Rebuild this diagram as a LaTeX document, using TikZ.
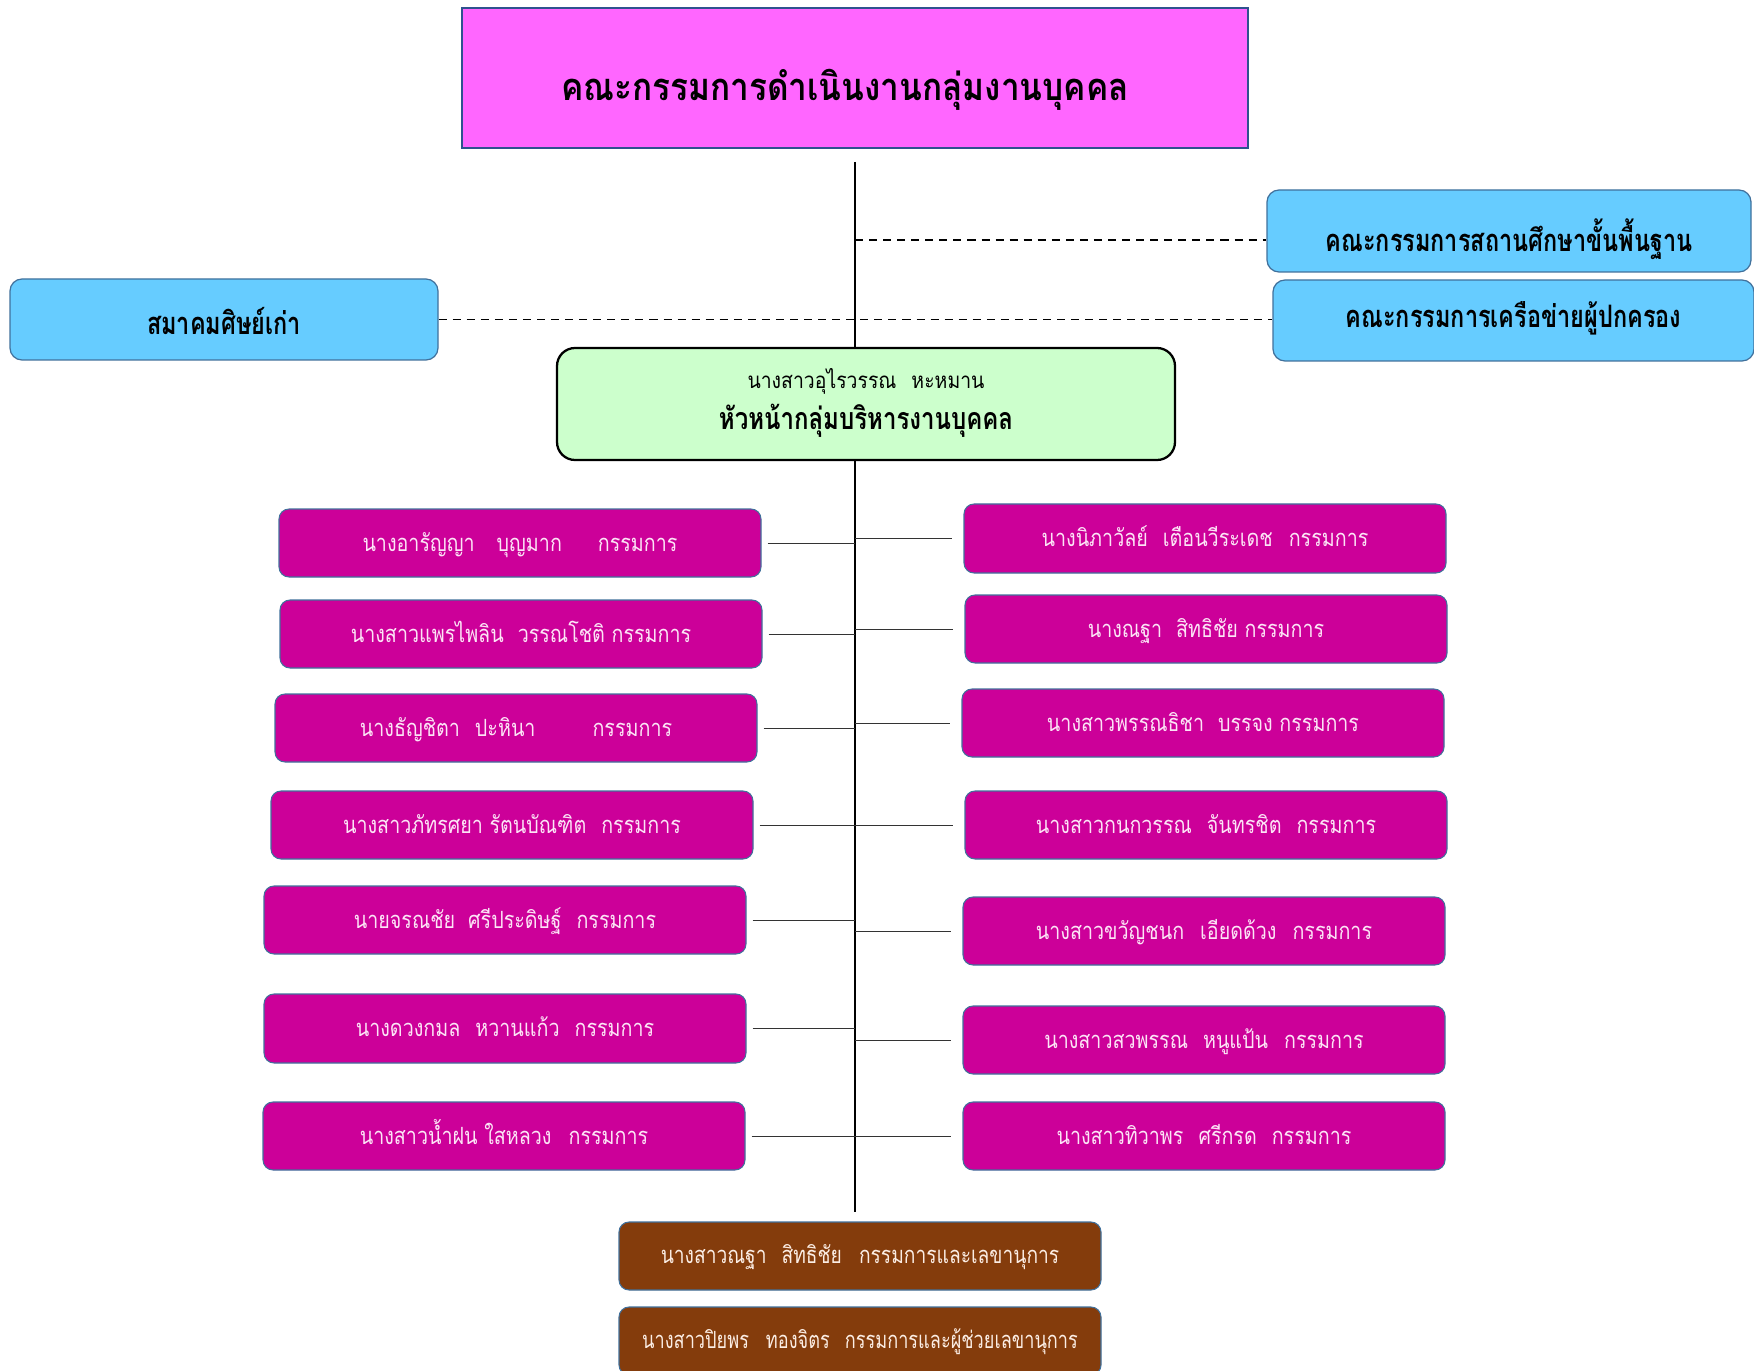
\documentclass[tikz,border=0pt]{standalone}
\usepackage{fontspec}
\setmainfont{Loma}[Script=Thai]
\newfontfamily\titlefont{Loma}[Script=Thai, FakeStretch=0.875]
\newfontfamily\partnerfont{Loma}[Script=Thai, FakeStretch=0.76]
\newfontfamily\leadnamefont{Loma}[Script=Thai, FakeStretch=0.87]
\newfontfamily\leadrolefont{Loma}[Script=Thai, FakeStretch=0.79]
\newfontfamily\memberfont{Loma}[Script=Thai, FakeStretch=0.83]
\newfontfamily\secfont{Loma}[Script=Thai, FakeStretch=0.81]
\newfontfamily\secnarrowfont{Loma}[Script=Thai, FakeStretch=0.765]
\newlength\px
\setlength\px{0.02cm}
\newcommand\gap[1]{\hspace{#1\px}}
\definecolor{titlefill}{HTML}{FF66FF}
\definecolor{titleline}{HTML}{2F528F}
\definecolor{bluefill}{HTML}{66CCFF}
\definecolor{blueline}{HTML}{41719C}
\definecolor{leadfill}{HTML}{CCFFCC}
\definecolor{memberfill}{HTML}{CC0099}
\definecolor{membertext}{HTML}{FCE4F6}
\definecolor{brownfill}{HTML}{843C0C}
\definecolor{browntext}{HTML}{FBEDE4}
\tikzset{
  orgbase/.style={inner sep=0pt, align=center, text depth=0pt},
  titlebox/.style={orgbase, fill=titlefill, draw=titleline, line width=1.4pt,
    text height=46\px, font=\titlefont\fontsize{21.7}{26}\selectfont\bfseries},
  partnerbox/.style={orgbase, fill=bluefill, draw=blueline, line width=0.7pt,
    rounded corners=0.24cm, font=\partnerfont\fontsize{17.6}{22}\selectfont\bfseries},
  leadbox/.style={fill=leadfill, draw=black, line width=1.3pt,
    rounded corners=0.36cm},
  leadtext/.style={inner sep=0pt, anchor=base},
  memberbox/.style={orgbase, fill=memberfill, draw=blueline, line width=0.6pt,
    rounded corners=0.2cm, text=membertext, text height=16\px,
    font=\memberfont\fontsize{13.5}{16}\selectfont},
  secbox/.style={orgbase, fill=brownfill, draw=blueline, line width=0.6pt,
    rounded corners=0.2cm, text=browntext, text height=14\px,
    font=\secfont\fontsize{13.5}{16}\selectfont},
  spine/.style={line width=1.4pt, black},
  branch/.style={line width=0.5pt, black!80},
  link/.style={line width=1.1pt, black, dash pattern=on 4.6pt off 3.4pt},
}
% box from its top-left and bottom-right corners, in pixel units
\newcommand\orgbox[8][]{%
  \node[#2, minimum width={(#6-#4)*\px}, minimum height={(#7-#5)*\px}, #1]
    (#3) at ({(#4+#6)/2},{(#5+#7)/2}) {#8};}
\begin{document}
\begin{tikzpicture}[x=0.02cm, y=-0.02cm]
\useasboundingbox[fill=white] (0,0) rectangle (1754,1371);

% committee title
\orgbox{titlebox}{title}{462}{8}{1248}{148}{คณะกรรมการดำเนินงานกลุ่มงานบุคคล\gap{20}}

% partner committees
\orgbox[text height=42\px]{partnerbox}{basic}{1267}{190}{1751}{272}{คณะกรรมการสถานศึกษาขั้นพื้นฐาน}
\orgbox[text height=15\px]{partnerbox}{parents}{1273}{280}{1754}{361}{คณะกรรมการเครือข่ายผู้ปกครอง}
\orgbox[text height=31\px]{partnerbox}{alumni}{10}{279}{438}{360}{สมาคมศิษย์เก่า}

% group head
\orgbox{leadbox}{lead}{557}{348}{1175}{460}{}
\node[leadtext, font=\leadnamefont\fontsize{12.7}{15}\selectfont] (leadname)
  at (866,389) {นางสาวอุไรวรรณ\gap{15}หะหมาน};
\node[leadtext, font=\leadrolefont\fontsize{17.3}{20}\selectfont\bfseries] (leadrole)
  at (866,430) {หัวหน้ากลุ่มบริหารงานบุคคล};

% spine of the chart
\coordinate (spinetop) at (855,162);
\coordinate (spinebot) at (855,1212);
\draw[link] ([yshift=-9\px]basic.west -| spinetop) -- ([yshift=-9\px]basic.west);
\draw[link] (alumni.east) -- (parents.west |- alumni.east);
\draw[spine] (spinetop) -- (spinetop |- lead.north);
\draw[spine] (spinetop |- lead.south) -- (spinebot);

% members, left column
\orgbox{memberbox}{l1}{279}{509}{761}{577}{นางอารัญญา\gap{22}บุญมาก\gap{36}กรรมการ}
\orgbox{memberbox}{l2}{280}{600}{762}{668}{นางสาวแพรไพลิน\gap{14}วรรณโชติ กรรมการ}
\orgbox{memberbox}{l3}{275}{694}{757}{762}{นางธัญชิตา\gap{15}ปะหินา\gap{57}กรรมการ}
\orgbox{memberbox}{l4}{271}{791}{753}{859}{นางสาวภัทรศยา รัตนบัณฑิต\gap{15}กรรมการ}
\orgbox{memberbox}{l5}{264}{886}{746}{954}{นายจรณชัย\gap{13}ศรีประดิษฐ์\gap{15}กรรมการ}
\orgbox{memberbox}{l6}{264}{994}{746}{1063}{นางดวงกมล\gap{15}หวานแก้ว\gap{15}กรรมการ}
\orgbox{memberbox}{l7}{263}{1102}{745}{1170}{นางสาวน้ำฝน ใสหลวง\gap{17}กรรมการ}

% members, right column
\orgbox{memberbox}{r1}{964}{504}{1446}{573}{นางนิภาวัลย์\gap{15}เตือนวีระเดช\gap{16}กรรมการ}
\orgbox{memberbox}{r2}{965}{595}{1447}{663}{นางณฐา\gap{14}สิทธิชัย กรรมการ}
\orgbox{memberbox}{r3}{962}{689}{1444}{757}{นางสาวพรรณธิชา\gap{14}บรรจง กรรมการ}
\orgbox{memberbox}{r4}{965}{791}{1447}{859}{นางสาวกนกวรรณ\gap{15}จันทรชิต\gap{15}กรรมการ}
\orgbox{memberbox}{r5}{963}{897}{1445}{965}{นางสาวขวัญชนก\gap{16}เอียดด้วง\gap{16}กรรมการ}
\orgbox{memberbox}{r6}{963}{1006}{1445}{1074}{นางสาวสวพรรณ\gap{15}หนูแป้น\gap{16}กรรมการ}
\orgbox{memberbox}{r7}{963}{1102}{1445}{1170}{นางสาวทิวาพร\gap{15}ศรีกรด\gap{15}กรรมการ}

% branches from the spine
\foreach \m in {l1,l2,l3,l4,l5,l6,l7}
  \draw[branch] ([xshift=6\px]\m.east) -- (\m.east -| spinetop);
\foreach \m in {r1,r2,r3,r4,r5,r6,r7}
  \draw[branch] (\m.west -| spinetop) -- ([xshift=-11\px]\m.west);

% secretaries
\orgbox{secbox}{sec1}{619}{1222}{1101}{1290}{นางสาวณฐา\gap{15}สิทธิชัย\gap{17}กรรมการและเลขานุการ}
\orgbox[font=\secnarrowfont\fontsize{13.5}{16}\selectfont]{secbox}{sec2}{619}{1307}{1101}{1375}{นางสาวปิยพร\gap{17}ทองจิตร\gap{15}กรรมการและผู้ช่วยเลขานุการ}
\end{tikzpicture}
\end{document}
